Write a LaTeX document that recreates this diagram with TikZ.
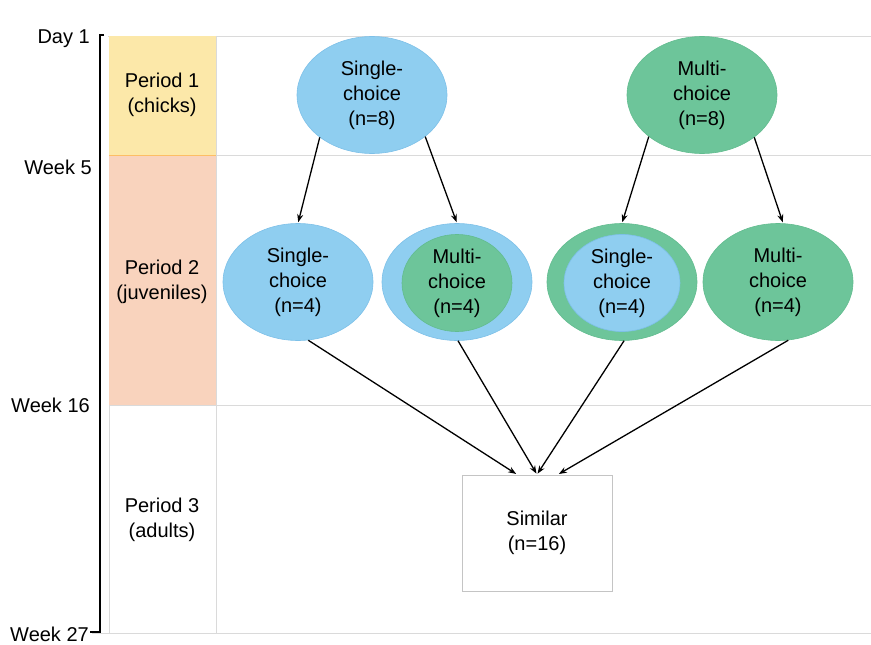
\documentclass[tikz,border=0pt]{standalone}
\usepackage{fontspec}
\setmainfont{Liberation Sans}
\usetikzlibrary{shapes.geometric,arrows.meta,calc}
\definecolor{cblue}{HTML}{8FCEF0}
\definecolor{cblueb}{HTML}{7DC0E8}
\definecolor{cgreen}{HTML}{6DC59A}
\definecolor{cgreenb}{HTML}{62BC8F}
\definecolor{cyellow}{HTML}{FCE8A9}
\definecolor{cpeach}{HTML}{F9D3BD}
\definecolor{cgrid}{HTML}{DADADA}
\definecolor{cbox}{HTML}{C4C4C4}
\begin{document}
\begin{tikzpicture}[x=1pt,y=-1pt,font=\fontsize{20}{25}\selectfont,
  ell/.style={ellipse,inner sep=0pt,align=center,line width=0.6pt},
  bl/.style={ell,fill=cblue,draw=cblueb},
  gr/.style={ell,fill=cgreen,draw=cgreenb},
  arr/.style={-{Stealth[length=8pt,width=6pt]},line width=1.3pt,shorten >=1pt},
  lbl/.style={anchor=base east,inner sep=0pt},
  per/.style={align=center,inner sep=0pt}]
\useasboundingbox (0,0) rectangle (871,645);
% grid
\draw[cgrid,line width=1pt] (108,36) -- (871,36);
\draw[cgrid,line width=1pt] (216,155) -- (871,155);
\draw[cgrid,line width=1pt] (216,405) -- (871,405);
\draw[cgrid,line width=1pt] (92,633) -- (871,633);
\draw[cgrid,line width=1pt] (216,36) -- (216,633);
% periods
\fill[cyellow] (109,36) rectangle (216,155);
\fill[cpeach] (109,155) rectangle (216,405);
\draw[cyellow!60!orange,line width=0.8pt] (109,155) -- (216,155);
\draw[cgrid,line width=1pt] (109,405) rectangle (216,633);
\node[per] (p1) at (162,95) {Period 1\\(chicks)};
\node[per] (p2) at (162,282) {Period 2\\(juveniles)};
\node[per] (p3) at (162,520) {Period 3\\(adults)};
% axis
\draw[line width=1.8pt] (104,35) -- (100,35) -- (100,632) -- (90,632);
\node[lbl] (d1) at (90,43) {Day 1};
\node[lbl] (w5) at (92,174) {Week 5};
\node[lbl] (w16) at (90,412) {Week 16};
\node[lbl] (w27) at (89,641) {Week 27};
% row 1
\node[bl,minimum width=150pt,minimum height=117pt] (s8) at (372,95) {Single-\\choice\\(n=8)};
\node[gr,minimum width=150pt,minimum height=117pt] (m8) at (702,95) {Multi-\\choice\\(n=8)};
% row 2
\node[bl,minimum width=150pt,minimum height=117pt] (s4) at (298,282) {Single-\\choice\\(n=4)};
\node[bl,minimum width=150pt,minimum height=117pt] (m4) at (457,282) {};
\node[gr,minimum width=110pt,minimum height=95pt] (m4i) at (457,283) {Multi-\\choice\\(n=4)};
\node[gr,minimum width=150pt,minimum height=117pt] (sg) at (622,282) {};
\node[bl,minimum width=116pt,minimum height=91pt] (sgi) at (622,283) {Single-\\choice\\(n=4)};
\node[gr,minimum width=150pt,minimum height=117pt] (mm) at (778,282) {Multi-\\choice\\(n=4)};
% result
\node[draw=cbox,line width=1pt,minimum width=150pt,minimum height=116pt,align=center] (sim) at (537,533) {Similar\\(n=16)};
% connectors
\draw[arr] (s8.219) -- (s4.north);
\draw[arr] (s8.322) -- (m4.north);
\draw[arr] (m8.218) -- (sg.north);
\draw[arr] (m8.321) -- (mm.85);
\draw[arr] (s4.280) -- ($(sim.north)+(-20,0)$);
\draw[arr] (m4.271) -- (sim.north);
\draw[arr] (sg.272) -- (sim.north);
\draw[arr] (mm.280) -- ($(sim.north)+(21,0)$);
\end{tikzpicture}
\end{document}
